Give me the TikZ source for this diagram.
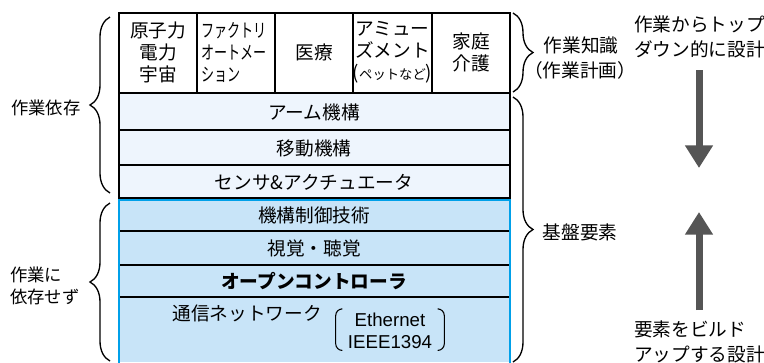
\documentclass[tikz,border=0pt]{standalone}
\usepackage{fontspec}
\setmainfont{Noto Sans CJK JP}
\newfontfamily\latinfont{Liberation Sans}
\usetikzlibrary{decorations.pathreplacing,arrows.meta}
\definecolor{paleblue}{RGB}{238,245,253}
\definecolor{lightblue}{RGB}{200,228,248}
\definecolor{cyanline}{RGB}{0,160,233}
\definecolor{arrowgray}{RGB}{85,85,85}
\newcommand{\narrow}[1]{\scalebox{0.7}[1]{#1}}
\tikzset{
  txt/.style={inner sep=0pt, font=\fontsize{14}{16.5}\selectfont},
  smalltxt/.style={inner sep=0pt, font=\fontsize{13}{16.5}\selectfont},
  cell/.style={txt, align=center},
  divider/.style={line width=1pt, black},
  bracebig/.style={line width=1pt, decorate, decoration={brace, amplitude=15pt}},
  bigarrow/.style={arrowgray, line width=5.25pt, -{Triangle[width=20pt,length=17pt]}},
  parenline/.style={line width=0.8pt, rounded corners=5pt},
}
\begin{document}
\begin{tikzpicture}[x=0.75pt,y=-0.75pt]
\useasboundingbox (0,0) rectangle (764,362);
% fills
\fill[paleblue] (119,93) rectangle (510,198);
\fill[lightblue] (119,199) rectangle (510,362);
% top row dividers
\foreach \xx in {197,275,353,432} \draw[divider] (\xx,13) -- (\xx,93);
% row dividers
\draw[line width=1.3pt] (119,93) -- (510,93);
\draw[divider] (119,130) -- (510,130);
\draw[divider] (119,165) -- (510,165);
\draw[divider] (119,231) -- (510,231);
\draw[divider] (119,265) -- (510,265);
\draw[divider] (119,297) -- (510,297);
% borders
\draw[line width=1.5pt] (119,13) rectangle (510,198);
\draw[cyanline, line width=1.5pt] (119,363) -- (119,199.5) -- (510,199.5) -- (510,363);

% top row texts
\node[cell] (nuc) at (158,52) {原子力\\電力\\宇宙};
\node[txt, align=left, anchor=west] (fa) at (201,52) {\narrow{ファクトリ}\\\narrow{オートメー}\\\narrow{ション}};
\node[cell] (med) at (314,52) {医療};
\node[cell] (amu) at (392.5,52) {アミュー\\ズメント\\({\fontsize{10}{12}\selectfont ペットなど})};
\node[cell] (home) at (471,52) {家庭\\介護};

% layers
\node[cell] (arm) at (314,112) {アーム機構};
\node[cell] (move) at (314,148) {移動機構};
\node[cell] (sens) at (314,182) {センサ\&アクチュエータ};
\node[cell] (mech) at (314,215) {機構制御技術};
\node[cell] (vis) at (314,248) {視覚・聴覚};
\node[cell, font=\fontsize{14}{16.5}\selectfont\bfseries] (open) at (314,281) {オープンコントローラ};
\node[cell] (comm) at (247,313) {通信ネットワーク};
\node[cell, font=\fontsize{14}{16.5}\selectfont\latinfont] (eth) at (390,331) {Ethernet\\IEEE1394};
\draw[parenline] ([xshift=-5pt,yshift=3pt]eth.north west) -- ([xshift=-9pt,yshift=3pt]eth.north west) -- ([xshift=-9pt,yshift=-1pt]eth.south west) -- ([xshift=-5pt,yshift=-1pt]eth.south west);
\draw[parenline] ([xshift=5pt,yshift=3pt]eth.north east) -- ([xshift=9pt,yshift=3pt]eth.north east) -- ([xshift=9pt,yshift=-1pt]eth.south east) -- ([xshift=5pt,yshift=-1pt]eth.south east);

% braces
\draw[bracebig] (110,193) -- (110,17);
\draw[bracebig] (110,361) -- (110,203);
\draw[bracebig] (513,13) -- (513,92);
\draw[bracebig] (513,97) -- (513,362);

% side labels
\node[smalltxt] (dep) at (46,108) {作業依存};
\node[smalltxt, align=left, anchor=west] (indep) at (10,286) {作業に\\依存せず};
\node[txt] (know) at (581,45) {作業知識};
\node[txt] (plan) at (580,70) {（作業計画）};
\node[txt] (base) at (580,232) {基盤要素};
\node[txt, align=left, anchor=west, font=\fontsize{14}{18.75}\selectfont] (td) at (634,37) {作業からトップ\\ダウン的に設計};
\node[txt, align=left, anchor=west, font=\fontsize{14}{18.75}\selectfont] (bu) at (634,341.5) {要素をビルド\\アップする設計};

% arrows
\coordinate (dtop) at (699,70);
\coordinate (dtip) at (699,168);
\coordinate (ubot) at (699,310);
\coordinate (utip) at (699,212);
\draw[bigarrow] (dtop) -- (dtip);
\draw[bigarrow] (ubot) -- (utip);
\end{tikzpicture}
\end{document}
